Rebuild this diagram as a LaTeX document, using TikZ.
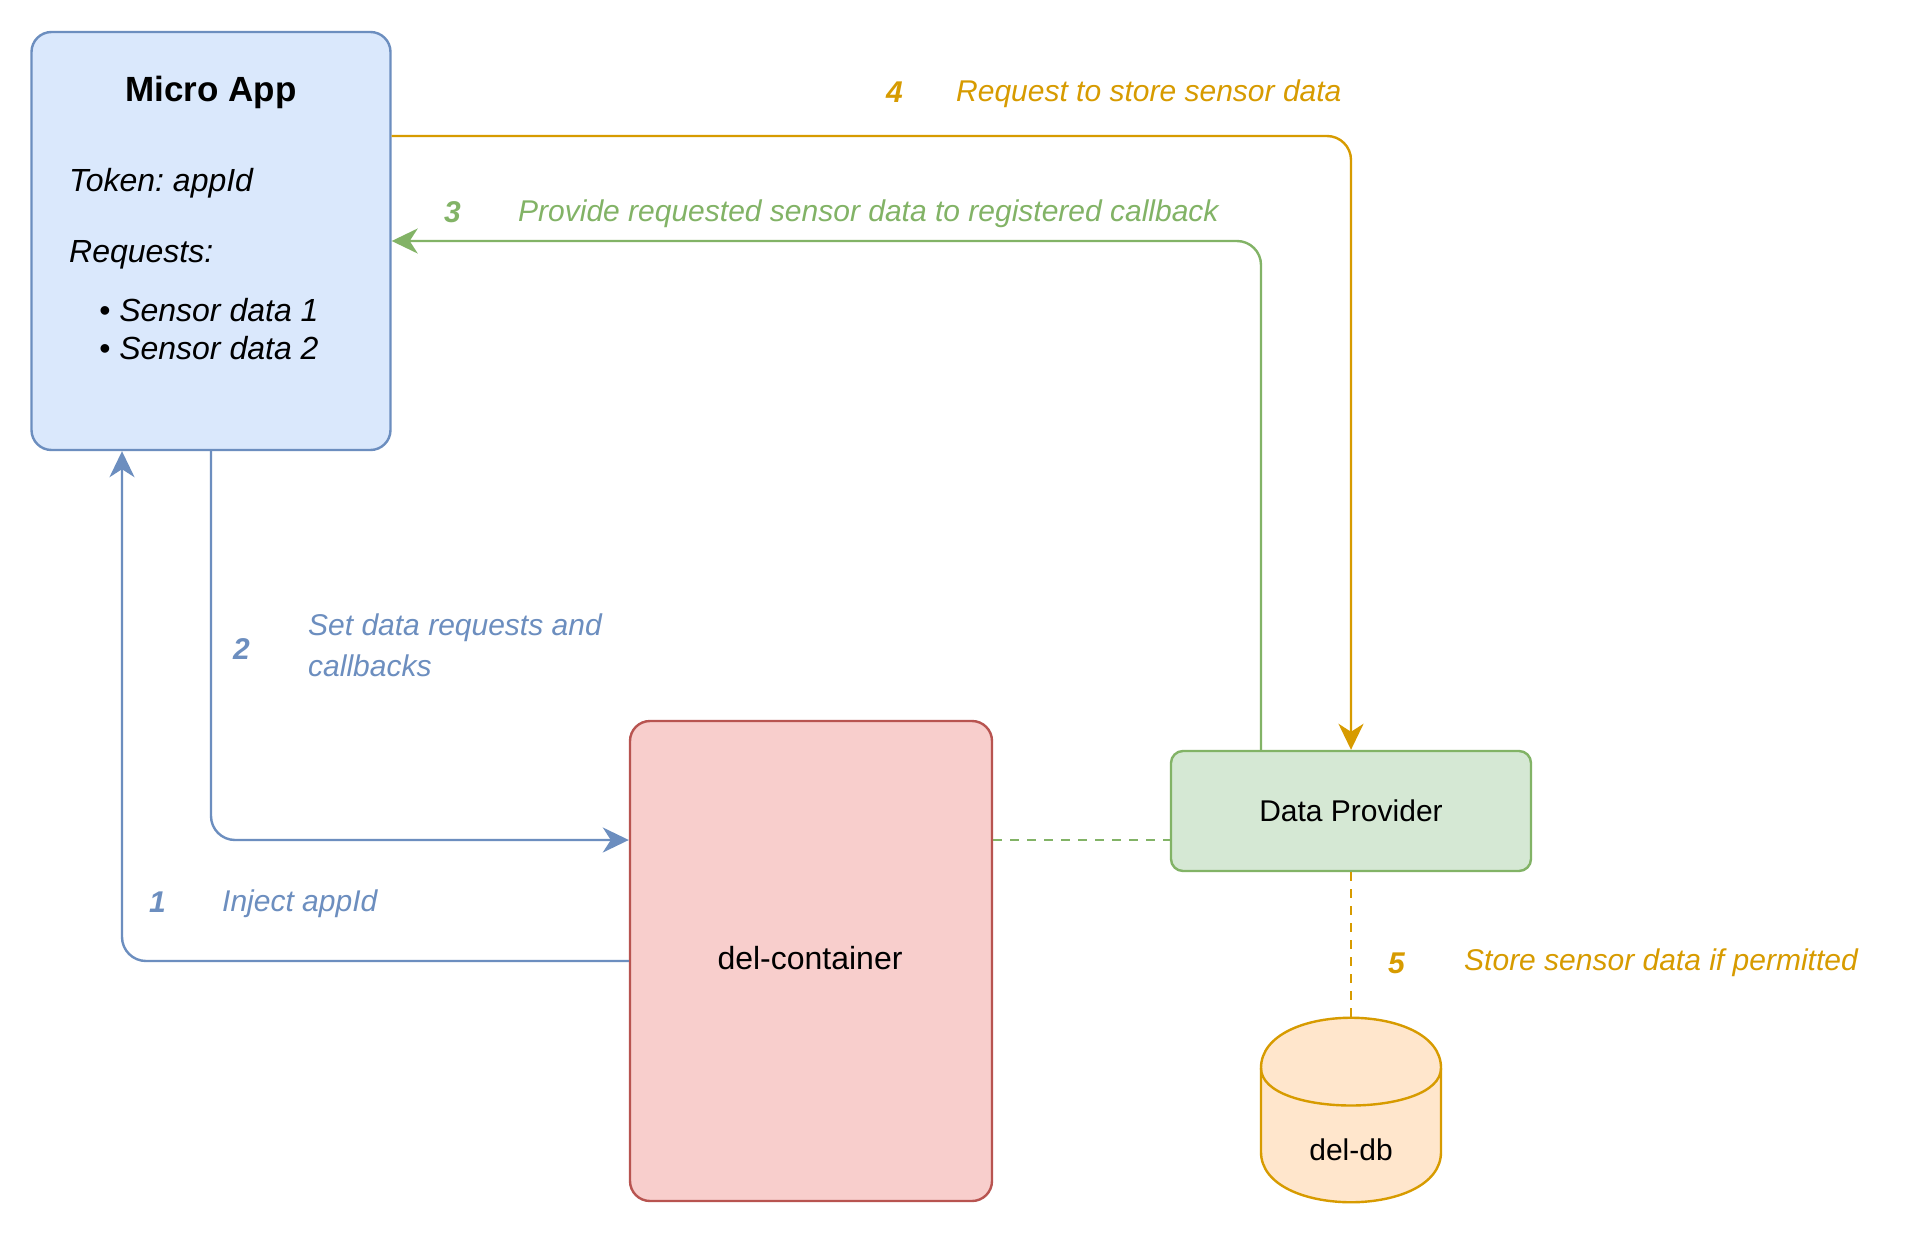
\documentclass[tikz,border=0pt]{standalone}
\usepackage{fontspec}
\setmainfont{Liberation Sans}
\frenchspacing
\usetikzlibrary{arrows.meta}
\definecolor{bstroke}{HTML}{6C8EBF}
\definecolor{bfill}{HTML}{DAE8FC}
\definecolor{rstroke}{HTML}{B85450}
\definecolor{rfill}{HTML}{F8CECC}
\definecolor{gstroke}{HTML}{82B366}
\definecolor{gfill}{HTML}{D5E8D4}
\definecolor{ostroke}{HTML}{D79B00}
\definecolor{ofill}{HTML}{FFE6CC}
\tikzset{
  box/.style={draw, line width=2.4pt, inner sep=0pt},
  conn/.style={line width=2.4pt, rounded corners=24pt, -{Stealth[length=26pt,width=25pt,inset=8pt]}},
  dashconn/.style={line width=2.4pt, dash pattern=on 9pt off 8pt},
  lbl/.style={font=\fontsize{30}{36}\selectfont\itshape, anchor=base west, inner sep=0pt},
  num/.style={font=\fontsize{30}{36}\selectfont\bfseries\itshape, anchor=base west, inner sep=0pt},
  boxtxt/.style={font=\fontsize{32}{38}\selectfont\itshape, anchor=base west, inner sep=0pt},
}
\begin{document}
\begin{tikzpicture}[x=1pt,y=-1pt]
\useasboundingbox[fill=white] (0,0) rectangle (1908,1233);

% boxes
\node[box, draw=bstroke, fill=bfill, rounded corners=20pt, minimum width=359pt, minimum height=418pt] (ma) at (211,241) {};
\node[box, draw=rstroke, fill=rfill, rounded corners=20pt, minimum width=362pt, minimum height=480pt] (dc) at (811,961) {};
\node[box, draw=gstroke, fill=gfill, rounded corners=12pt, minimum width=360pt, minimum height=120pt] (dp) at (1351,811) {};

% cylinder
\filldraw[line width=2.4pt, draw=ostroke, fill=ofill]
  (1261,1068) .. controls (1261,1001) and (1441,1001) .. (1441,1068)
  -- (1441,1152) .. controls (1441,1219) and (1261,1219) .. (1261,1152) -- cycle;
\draw[line width=2.4pt, draw=ostroke]
  (1261,1068) .. controls (1261,1118) and (1441,1118) .. (1441,1068);
\coordinate (dbtop) at (1351,1018);

% box texts
\node[font=\fontsize{35}{42}\selectfont\bfseries, anchor=base, inner sep=0pt] (matitle) at (211,102) {Micro App};
\node[boxtxt] (matoken) at (69,192) {Token: appId};
\node[boxtxt] (mareq) at (69,263) {Requests:};
\node[boxtxt] (mas1) at (99,321) {• Sensor data 1};
\node[boxtxt] (mas2) at (99,359) {• Sensor data 2};
\node[font=\fontsize{32}{38}\selectfont, anchor=base, inner sep=0pt] (dctxt) at (810,969) {del-container};
\node[font=\fontsize{30}{36}\selectfont, anchor=base, inner sep=0pt] (dptxt) at (1351,821) {Data Provider};
\node[font=\fontsize{30}{36}\selectfont, anchor=base, inner sep=0pt] (dbtxt) at (1351,1160) {del-db};

% connectors
\draw[conn, draw=bstroke] (ma.south) |- ([yshift=121pt]dc.west);
\draw[conn, draw=bstroke] (dc.west) -| ([xshift=-89pt]ma.south);
\draw[conn, draw=ostroke] ([yshift=105pt]ma.east) -| (dp.north);
\draw[conn, draw=gstroke] ([xshift=-90pt]dp.north) |- (ma.east);
\draw[dashconn, draw=gstroke] ([yshift=121pt]dc.east) -- ([yshift=121pt]dc.east -| dp.west);
\draw[dashconn, draw=ostroke] (dp.south) -- (dbtop);

% labels
\node[num, text=ostroke] (n4) at (886,103) {4};
\node[lbl, text=ostroke] (l4) at (956,102) {Request to store sensor data};
\node[num, text=gstroke] (n3) at (444,223) {3};
\node[lbl, text=gstroke] (l3) at (518,222) {Provide requested sensor data to registered callback};
\node[num, text=bstroke] (n2) at (233,659) {2};
\node[lbl, text=bstroke] (l2a) at (308,635) {Set data requests and};
\node[lbl, text=bstroke] (l2b) at (308,676) {callbacks};
\node[num, text=bstroke] (n1) at (149,912) {1};
\node[lbl, text=bstroke] (l1) at (222,911) {Inject appId};
\node[num, text=ostroke] (n5) at (1388,973) {5};
\node[lbl, text=ostroke] (l5) at (1464,970) {Store sensor data if permitted};
\end{tikzpicture}
\end{document}
